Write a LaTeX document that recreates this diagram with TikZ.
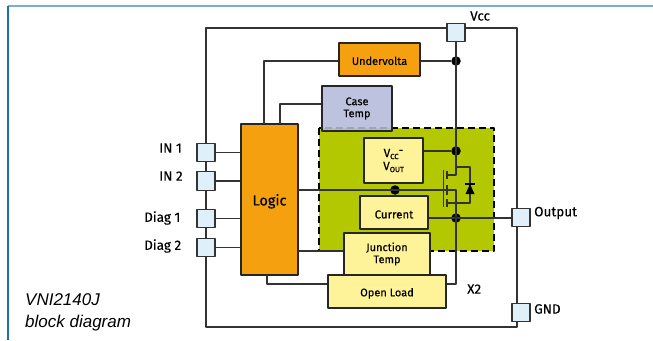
\documentclass[tikz,border=0pt]{standalone}
\usepackage{fontspec}
\setmainfont[FakeBold=0.25]{Fira Sans}
\newfontfamily\captionfont{Liberation Sans}
\definecolor{padblue}{HTML}{DFF0FA}
\definecolor{logicorange}{HTML}{F4A00F}
\definecolor{caseblue}{HTML}{B4BBD9}
\definecolor{areagreen}{HTML}{B3C800}
\definecolor{boxyellow}{HTML}{FFF399}
\definecolor{wiregray}{HTML}{333333}
\definecolor{frametop}{HTML}{7BADD3}
\definecolor{frameleft}{HTML}{1E6FB4}
\newcommand{\smalltxt}[1]{{\fontsize{7.5}{7.5}\selectfont #1}}
\tikzset{
	pad/.style={draw=wiregray,fill=padblue,line width=1.1pt,minimum width=18pt,minimum height=18.5pt,inner sep=0pt},
	block/.style={draw=black!85,line width=1.1pt,inner sep=0pt,align=center,font=\fontsize{11}{12}\selectfont},
	nudge/.style={execute at begin node={\rule{0pt}{#1}}},
	yellowbox/.style={block,fill=boxyellow},
	wire/.style={draw=wiregray,line width=1.3pt},
	blob/.style={circle,fill=black,minimum size=9.5pt,inner sep=0pt},
	pinlabel/.style={anchor=west,inner sep=0pt,font=\fontsize{13.5}{15}\selectfont}
}
\begin{document}
\begin{tikzpicture}[x=1pt,y=-1pt,line join=round]
	\useasboundingbox (0,0) rectangle (653,340);
	\draw[frametop,line width=1.6pt] (8,6)--(653,6);
	\draw[frameleft,line width=1.2pt] (8,6)--(8,340);
	% green area and outer chip
	\node[draw=wiregray,line width=1.3pt,minimum width=311pt,minimum height=299pt,inner sep=0pt] (chip) at (361.5,177.5) {};
	\fill[areagreen] (319,128) rectangle (494,251);
	\draw[black,line width=1.2pt,dash pattern=on 7pt off 4pt] (319,128) rectangle (494,251);
	% pads
	\node[pad] (vcc) at (456,32.5) {};
	\node[pad] (in1) at (206,152.5) {};
	\node[pad] (in2) at (206,181) {};
	\node[pad] (diag1) at (206,218.5) {};
	\node[pad] (diag2) at (206,247.5) {};
	\node[pad] (output) at (521,217.5) {};
	\node[pad] (gnd) at (521,312.5) {};
	% blocks
	\node[block,fill=logicorange,minimum width=57pt,minimum height=151pt,font=\fontsize{14.5}{15}\selectfont,nudge=15pt] (logic) at (269.5,199.5) {Logic};
	\node[block,fill=logicorange,minimum width=81pt,minimum height=33pt,nudge=11pt] (undervolta) at (379.5,59.5) {Undervolta};
	\node[block,fill=caseblue,fill opacity=0.88,text opacity=1,minimum width=70pt,minimum height=45pt,nudge=12pt] (casetemp) at (357,108.5) {Case\\Temp};
	\node[yellowbox,minimum width=59pt,minimum height=45pt,font=\fontsize{12}{13}\selectfont,nudge=11pt] (vccvout) at (393.5,160.5) {V\smalltxt{\raisebox{-2pt}{CC}}\raisebox{3pt}{-}\\V\smalltxt{\raisebox{-2pt}{OUT}}};
	\node[yellowbox,minimum width=68pt,minimum height=33pt,font=\fontsize{11.5}{13}\selectfont,nudge=12pt] (current) at (394,212.5) {Current};
	\node[yellowbox,minimum width=86pt,minimum height=42pt,nudge=16pt] (junction) at (387,254) {Junction\\Temp};
	\node[yellowbox,minimum width=118pt,minimum height=33pt,nudge=12pt] (openload) at (387,291.5) {Open Load};
	% junctions
	\node[blob] (dotu) at (456,61) {};
	\node[blob] (dotv) at (456,151) {};
	\node[blob] (dotc) at (395,190) {};
	\node[blob] (dots) at (456,218) {};
	\coordinate (tapu) at (264,124);
	\coordinate (tapc) at (280,124);
	\coordinate (tapj) at (298,251);
	\coordinate (tapo) at (267,275);
	\coordinate (gatel) at (298,190);
	\coordinate (gater) at (456,190);
	\coordinate (drain) at (456,175);
	\coordinate (source) at (456,203);
	\coordinate (anode) at (470,203);
	\coordinate (corner) at (456,284);
	% connectors
	\draw[wire] (dotu)--(dotu-|undervolta.east);
	\draw[wire] (dotu-|undervolta.west)-|(tapu);
	\draw[wire] (casetemp.west|-0,104)-|(tapc);
	\draw[wire] (in1)--(in1-|logic.west);
	\draw[wire] (in2)--(in2-|logic.west);
	\draw[wire] (diag1)--(diag1-|logic.west);
	\draw[wire] (diag2)--(diag2-|logic.west);
	\draw[wire] (tapj)--(tapj-|junction.west);
	\draw[wire] (tapo)|-(corner-|openload.west);
	\draw[wire] (corner-|openload.east)-|(source);
	\draw[wire] (vcc)--(drain)--(drain-|447,0);
	\draw[wire] (dotv)--(dotv-|vccvout.east);
	\draw[wire] (dotc)--(current.north-|dotc);
	\draw[wire] (gatel)--(gater)--(source);
	\draw[wire] (dots-|current.east)--(dots-|output.west);
	% transistor
	\draw[wire] (456,167)-|(anode)--(source-|447,0);
	\draw[wire] (443.5,170)--(443.5,207);
	\draw[wire] (447,171)--(447,179) (447,185)--(447,195) (447,199)--(447,207);
	\fill[black] (465.5,194)--(474.5,194)--(470,184)--cycle;
	\draw[black,line width=1.2pt] (465,184)--(475,184);
	% labels
	\node[pinlabel] (lvcc) at (470,16) {Vcc};
	\node[pinlabel] (lin1) at (159,148) {IN 1};
	\node[pinlabel] (lin2) at (159,176) {IN 2};
	\node[pinlabel] (ldiag1) at (144,218) {Diag 1};
	\node[pinlabel] (ldiag2) at (144,246) {Diag 2};
	\node[pinlabel] (loutput) at (534,213) {Output};
	\node[pinlabel] (lgnd) at (534,309) {GND};
	\node[pinlabel] (lxtwo) at (467,289) {X2};
	\node[anchor=west,inner sep=0pt,align=left,font=\fontsize{17}{22}\selectfont\captionfont\itshape] (caption) at (25,312) {VNI2140J\\block diagram};
\end{tikzpicture}
\end{document}
